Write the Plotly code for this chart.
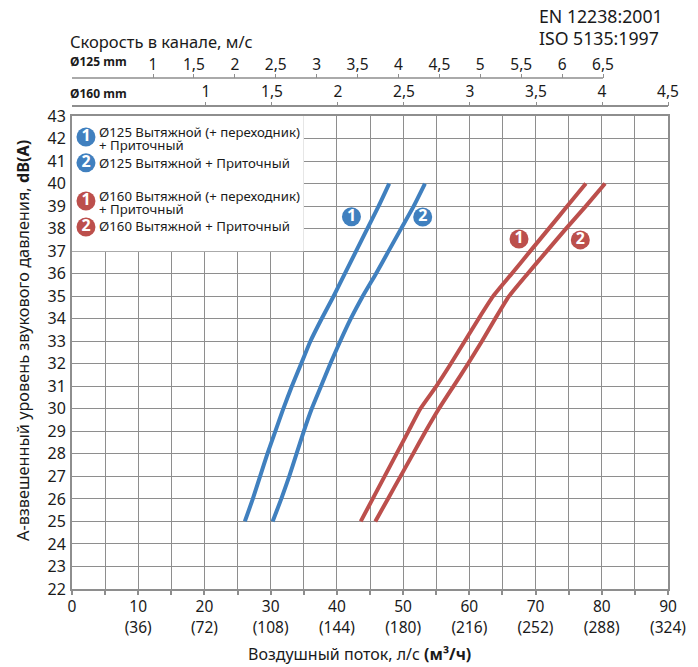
import plotly.graph_objects as go

# ---- data ----
levels = [25, 26, 27, 28, 29, 30, 31, 32, 33, 34, 35, 36, 37, 38, 39, 40]
blue_1 = [26.1, 27.3, 28.4, 29.5, 30.7, 31.9, 33.2, 34.6, 36.0, 37.7, 39.5, 41.2, 42.9, 44.6, 46.3, 47.9]
blue_2 = [30.3, 31.6, 32.8, 33.9, 35.0, 36.2, 37.6, 39.0, 40.5, 42.1, 43.9, 45.9, 47.8, 49.7, 51.6, 53.3]
red_1 = [43.6, 45.4, 47.2, 49.0, 50.8, 52.6, 55.0, 57.2, 59.3, 61.4, 63.6, 66.4, 69.2, 72.0, 74.8, 77.6]
red_2 = [45.8, 47.7, 49.6, 51.5, 53.4, 55.4, 57.6, 59.8, 61.9, 63.9, 66.0, 68.8, 71.7, 74.6, 77.6, 80.5]

flow_ticks = list(range(0, 95, 5))
flow_labels = ["0", "", "10", "", "20", "", "30", "", "40", "", "50", "", "60", "", "70", "", "80", "", "90"]
m3h_ticks = [10, 20, 30, 40, 50, 60, 70, 80, 90]
m3h_labels = ["(36)", "(72)", "(108)", "(144)", "(180)", "(216)", "(252)", "(288)", "(324)"]
db_ticks = list(range(22, 44))
v125_ticks = [1, 1.5, 2, 2.5, 3, 3.5, 4, 4.5, 5, 5.5, 6, 6.5]
v125_labels = ["1", "1,5", "2", "2,5", "3", "3,5", "4", "4,5", "5", "5,5", "6", "6,5"]
v160_ticks = [1, 1.5, 2, 2.5, 3, 3.5, 4, 4.5]
v160_labels = ["1", "1,5", "2", "2,5", "3", "3,5", "4", "4,5"]

curve_badge_x = [42.2, 52.96, 67.5, 76.76]
curve_badge_y = [38.53, 38.52, 37.54, 37.5]
legend_badge_x = [2.11, 2.11, 2.11, 2.11]
legend_badge_y = [42.07, 40.92, 39.23, 38.07]
badge_text = ["1", "2", "1", "2"]

legend_lines = ["Ø125 Вытяжной (+ переходник)", "+ Приточный", "Ø125 Вытяжной + Приточный",
                "Ø160 Вытяжной (+ переходник)", "+ Приточный", "Ø160 Вытяжной + Приточный"]
legend_line_y = [131.7, 144.7, 162.5, 195.5, 208.7, 226.3]

BLUE = "#4080BF"
RED = "#BC4F4C"
GRID = "#8E8E8E"
TXT = "#1a1a1a"
FONT = "Noto Sans"

W, H = 698, 667
L, R, T, B = 72, 30, 60, 78
PH = H - T - B
def py(p):  # pixel row -> paper fraction
    return (H - B - p) / PH
def px(p):
    return (p - L) / (W - L - R)

fig = go.Figure()

for vals, col in ((blue_1, BLUE), (blue_2, BLUE), (red_1, RED), (red_2, RED)):
    fig.add_trace(go.Scatter(x=vals, y=levels, mode="lines",
                             line=dict(color=col, width=4, shape="spline", smoothing=0.5),
                             showlegend=False, hoverinfo="skip"))

badge_cols = [BLUE, BLUE, RED, RED]
fig.add_trace(go.Scatter(x=curve_badge_x + legend_badge_x, y=curve_badge_y + legend_badge_y,
                         mode="markers+text", text=badge_text + badge_text,
                         textposition="middle center",
                         textfont=dict(family=FONT, size=16, color="white", weight="bold"),
                         marker=dict(size=19, color=badge_cols + badge_cols, line=dict(width=0)),
                         showlegend=False, hoverinfo="skip"))

# carriers so the extra axes are drawn
fig.add_trace(go.Scatter(x=v125_ticks, y=[None] * len(v125_ticks), xaxis="x2", mode="lines", showlegend=False, hoverinfo="skip"))
fig.add_trace(go.Scatter(x=v160_ticks, y=[None] * len(v160_ticks), xaxis="x3", mode="lines", showlegend=False, hoverinfo="skip"))
fig.add_trace(go.Scatter(x=m3h_ticks, y=[None] * len(m3h_ticks), xaxis="x4", mode="lines", showlegend=False, hoverinfo="skip"))

fig.add_shape(type="rect", xref="x", yref="y", x0=0, x1=35, y0=37, y1=43,
              fillcolor="white", line_width=0, layer="between")
# the Ø125 scale stops at 6,5: its axis line is drawn only that far
fig.add_shape(type="line", xref="x2", yref="paper", x0=0.01, x1=6.5, y0=py(78), y1=py(78),
              line=dict(color=GRID, width=1.5), layer="above")

top_axis = dict(overlaying="x", anchor="free", side="top", showgrid=False, ticks="outside",
                ticklen=4, tickwidth=1, tickcolor=GRID, linecolor=GRID, linewidth=1.5,
                ticklabelstandoff=-2,
                tickfont=dict(family=FONT, size=15.5, color=TXT), tickmode="array", zeroline=False)

fig.update_layout(
    width=W, height=H, margin=dict(l=L, r=R, t=T, b=B),
    paper_bgcolor="white", plot_bgcolor="white", showlegend=False,
    xaxis=dict(range=[0, 90], tickmode="array", tickvals=flow_ticks, ticktext=flow_labels,
               showgrid=True, gridcolor=GRID, gridwidth=1, zeroline=False,
               ticks="outside", ticklen=4, tickcolor=GRID, tickwidth=1.5, ticklabelstandoff=-2,
               showline=True, linecolor=GRID, linewidth=2, mirror=True,
               tickfont=dict(family=FONT, size=15.5, color=TXT)),
    yaxis=dict(range=[22, 43], domain=[0, py(116)], tickmode="array", tickvals=db_ticks,
               showgrid=True, gridcolor=GRID, gridwidth=1, zeroline=False, ticks="",
               ticklabelstandoff=1,
               showline=True, linecolor=GRID, linewidth=2, mirror=True,
               tickfont=dict(family=FONT, size=16, color=TXT)),
    xaxis2=dict(top_axis, range=[0.01, 7.294], position=py(78), showline=False,
                tickvals=v125_ticks, ticktext=v125_labels),
    xaxis3=dict(top_axis, range=[-0.015, 4.5], position=py(106.3), showline=True,
                tickvals=v160_ticks, ticktext=v160_labels),
    xaxis4=dict(overlaying="x", anchor="y", side="bottom", range=[0, 90], showgrid=False,
                zeroline=False, showline=False, ticks="", tickmode="array",
                tickvals=m3h_ticks, ticktext=m3h_labels, ticklabelstandoff=27,
                tickfont=dict(family=FONT, size=15.5, color=TXT)),
)

def note(text, xp, yp, size, anchor="left", angle=0):
    fig.add_annotation(text=text, xref="paper", yref="paper", x=px(xp), y=py(yp), showarrow=False,
                       xanchor=anchor, yanchor="middle", textangle=angle, borderpad=0, borderwidth=0,
                       font=dict(family=FONT, size=size, color=TXT))

note("EN 12238:2001", 539, 15.7, 17.7)
note("ISO 5135:1997", 539, 37.7, 17.7)
note("Скорость в канале, м/с", 70, 42, 16.5)
note("<b>Ø125 mm</b>", 70, 61, 12)
note("<b>Ø160 mm</b>", 70, 93, 12)
note("А-взвешенный уровень звукового давления, <b>dB(A)</b>", 23, 341, 16.3, anchor="center", angle=-90)
note("Воздушный поток, л/с <b>(м³/ч)</b>", 359, 654, 16, anchor="center")
for line, yy in zip(legend_lines, legend_line_y):
    note(line, 99, yy, 13.2)

fig.write_html("out.html", post_script="document.body.style.margin='0';",
               config={"displayModeBar": False})
